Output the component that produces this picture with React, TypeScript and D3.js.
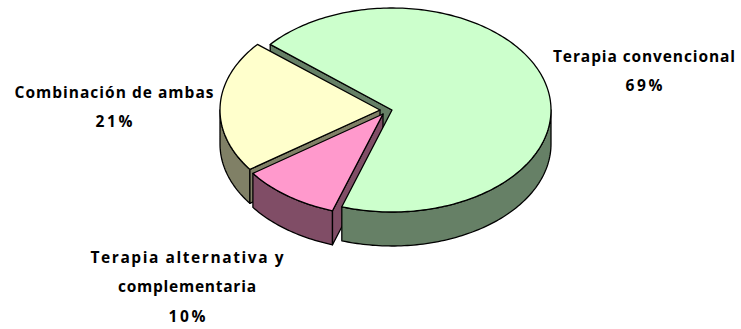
import React from "react";
import * as d3 from "d3";

// Share of patients per therapy type, in percent.
const categories = ["Terapia convencional", "Terapia alternativa y complementaria", "Combinación de ambas"];
const shares = [69, 10, 21];
const topColors = ["#CCFFCC", "#FF99CC", "#FFFFCC"];
const sideColors = ["#668066", "#804D66", "#808066"];
const labelLines = [
  ["Terapia convencional", "69%"],
  ["Terapia alternativa y", "complementaria", "10%"],
  ["Combinación de ambas", "21%"],
];
const labelWidths = [
  [182, 37],
  [193, 138, 37],
  [199, 37],
];
const labelAnchors = [
  { x: 644, y: [62, 91] },
  { x: 187, y: [263, 292, 322] },
  { x: 114, y: [98, 127] },
];
// Each slice is pulled slightly away from the shared centre of the tilted disc.
const sliceCentres = [
  { x: 392, y: 110, rx: 159 },
  { x: 383, y: 114, rx: 160 },
  { x: 380, y: 110, rx: 160 },
];

const RY = 102;
const DEPTH = 34;
const START_ANGLE = (310 * Math.PI) / 180;

const slices = d3
  .pie<number>()
  .sort(null)
  .startAngle(START_ANGLE)
  .endAngle(START_ANGLE + 2 * Math.PI)(shares);

type Pt = [number, number];
const rimPoint = (i: number, a: number, drop = 0): Pt => [
  sliceCentres[i].x + sliceCentres[i].rx * Math.sin(a),
  sliceCentres[i].y - RY * Math.cos(a) + drop,
];
const rim = (i: number, a0: number, a1: number, drop = 0): Pt[] => {
  const n = Math.max(2, Math.ceil(Math.abs(a1 - a0) / 0.02));
  return d3.range(n + 1).map((k) => rimPoint(i, a0 + ((a1 - a0) * k) / n, drop));
};
const closed = d3.line().curve(d3.curveLinearClosed);

const topPath = (i: number) => {
  const s = slices[i];
  return closed([[sliceCentres[i].x, sliceCentres[i].y], ...rim(i, s.startAngle, s.endAngle)])!;
};
// Outer wall limited to the part of the rim facing the viewer (90deg to 270deg).
const wallPath = (i: number) => {
  const s = slices[i];
  const base = Math.floor(s.endAngle / (2 * Math.PI)) * 2 * Math.PI;
  const a0 = Math.max(s.startAngle, base + Math.PI / 2);
  const a1 = Math.min(s.endAngle, base + (3 * Math.PI) / 2);
  return closed([...rim(i, a0, a1), ...rim(i, a1, a0, DEPTH)])!;
};
// Flat cut face running from the centre to the rim at the given angle.
const facePath = (i: number, a: number) => {
  const c = sliceCentres[i];
  const p = rimPoint(i, a);
  return closed([
    [c.x, c.y],
    p,
    [p[0], p[1] + DEPTH],
    [c.x, c.y + DEPTH],
  ])!;
};

const stroke = { stroke: "#000", strokeWidth: 1.3, strokeLinejoin: "round" as const };

export default function App() {
  const [green, pink, yellow] = [0, 1, 2];
  return (
    <svg
      width={741}
      height={329}
      viewBox="0 0 741 329"
      style={{ position: "absolute", left: 0, top: 0, background: "#fff" }}
    >
      <path d={facePath(green, slices[green].startAngle)} fill={sideColors[green]} {...stroke} />

      <path d={wallPath(yellow)} fill={sideColors[yellow]} {...stroke} />
      <path d={facePath(yellow, slices[yellow].startAngle)} fill={sideColors[yellow]} {...stroke} />
      <path d={topPath(yellow)} fill={topColors[yellow]} {...stroke} />

      <path d={wallPath(pink)} fill={sideColors[pink]} {...stroke} />
      <path d={facePath(pink, slices[pink].startAngle)} fill={sideColors[pink]} {...stroke} />
      <path d={topPath(pink)} fill={topColors[pink]} {...stroke} />

      <path d={wallPath(green)} fill={sideColors[green]} {...stroke} />
      <path d={topPath(green)} fill={topColors[green]} {...stroke} />

      {categories.map((name, i) => (
        <g key={name}>
          {labelLines[i].map((line, j) => (
            <text
              key={line}
              x={labelAnchors[i].x}
              y={labelAnchors[i].y[j]}
              textAnchor="middle"
              textLength={labelWidths[i][j]}
              lengthAdjust="spacing"
              fontFamily="'Comic Sans MS', 'Open Sans', sans-serif"
              fontWeight={700}
              fontSize={15.5}
              fill="#000"
            >
              {line}
            </text>
          ))}
        </g>
      ))}
    </svg>
  );
}
